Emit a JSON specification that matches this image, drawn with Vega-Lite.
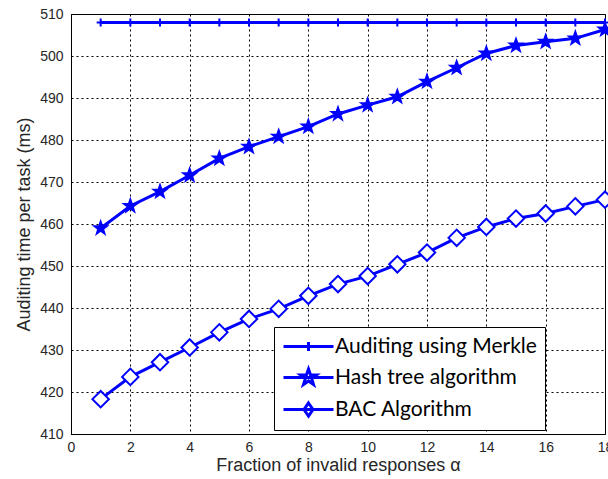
{
  "$schema": "https://vega.github.io/schema/vega-lite/v6.json",
  "width": 534,
  "height": 420,
  "autosize": {"type": "none"},
  "padding": {"left": 71, "top": 14, "right": 3, "bottom": 45},
  "background": "white",
  "config": {"view": {"stroke": "black", "strokeWidth": 1}, "font": "Liberation Sans"},
  "data": {"values": [
    {"series": "Auditing using Merkle", "x": 1, "y": 508}, {"series": "Auditing using Merkle", "x": 2, "y": 508},
    {"series": "Auditing using Merkle", "x": 3, "y": 508}, {"series": "Auditing using Merkle", "x": 4, "y": 508},
    {"series": "Auditing using Merkle", "x": 5, "y": 508}, {"series": "Auditing using Merkle", "x": 6, "y": 508},
    {"series": "Auditing using Merkle", "x": 7, "y": 508}, {"series": "Auditing using Merkle", "x": 8, "y": 508},
    {"series": "Auditing using Merkle", "x": 9, "y": 508}, {"series": "Auditing using Merkle", "x": 10, "y": 508},
    {"series": "Auditing using Merkle", "x": 11, "y": 508}, {"series": "Auditing using Merkle", "x": 12, "y": 508},
    {"series": "Auditing using Merkle", "x": 13, "y": 508}, {"series": "Auditing using Merkle", "x": 14, "y": 508},
    {"series": "Auditing using Merkle", "x": 15, "y": 508}, {"series": "Auditing using Merkle", "x": 16, "y": 508},
    {"series": "Auditing using Merkle", "x": 17, "y": 508}, {"series": "Auditing using Merkle", "x": 18, "y": 508},
    {"series": "Hash tree algorithm", "x": 1, "y": 459.0}, {"series": "Hash tree algorithm", "x": 2, "y": 464.3},
    {"series": "Hash tree algorithm", "x": 3, "y": 467.7}, {"series": "Hash tree algorithm", "x": 4, "y": 471.6},
    {"series": "Hash tree algorithm", "x": 5, "y": 475.6}, {"series": "Hash tree algorithm", "x": 6, "y": 478.4},
    {"series": "Hash tree algorithm", "x": 7, "y": 480.8}, {"series": "Hash tree algorithm", "x": 8, "y": 483.2},
    {"series": "Hash tree algorithm", "x": 9, "y": 486.2}, {"series": "Hash tree algorithm", "x": 10, "y": 488.3},
    {"series": "Hash tree algorithm", "x": 11, "y": 490.3}, {"series": "Hash tree algorithm", "x": 12, "y": 493.9},
    {"series": "Hash tree algorithm", "x": 13, "y": 497.2}, {"series": "Hash tree algorithm", "x": 14, "y": 500.6},
    {"series": "Hash tree algorithm", "x": 15, "y": 502.5}, {"series": "Hash tree algorithm", "x": 16, "y": 503.4},
    {"series": "Hash tree algorithm", "x": 17, "y": 504.2}, {"series": "Hash tree algorithm", "x": 18, "y": 506.3},
    {"series": "BAC Algorithm", "x": 1, "y": 418.3}, {"series": "BAC Algorithm", "x": 2, "y": 423.6},
    {"series": "BAC Algorithm", "x": 3, "y": 427.1}, {"series": "BAC Algorithm", "x": 4, "y": 430.6},
    {"series": "BAC Algorithm", "x": 5, "y": 434.2}, {"series": "BAC Algorithm", "x": 6, "y": 437.4},
    {"series": "BAC Algorithm", "x": 7, "y": 439.8}, {"series": "BAC Algorithm", "x": 8, "y": 442.9},
    {"series": "BAC Algorithm", "x": 9, "y": 445.7}, {"series": "BAC Algorithm", "x": 10, "y": 447.6},
    {"series": "BAC Algorithm", "x": 11, "y": 450.4}, {"series": "BAC Algorithm", "x": 12, "y": 453.2},
    {"series": "BAC Algorithm", "x": 13, "y": 456.7}, {"series": "BAC Algorithm", "x": 14, "y": 459.3},
    {"series": "BAC Algorithm", "x": 15, "y": 461.3}, {"series": "BAC Algorithm", "x": 16, "y": 462.5},
    {"series": "BAC Algorithm", "x": 17, "y": 464.2}, {"series": "BAC Algorithm", "x": 18, "y": 465.8}
  ]},
  "encoding": {
    "x": {
      "field": "x", "type": "quantitative",
      "scale": {"domain": [0, 18], "nice": false, "zero": false},
      "axis": {
        "values": [0, 2, 4, 6, 8, 10, 12, 14, 16, 18],
        "title": "Fraction of invalid responses α",
        "titleFont": "Liberation Sans", "titleFontSize": 18, "titleFontWeight": "normal", "titleColor": "#262626", "titlePadding": 2,
        "labelFont": "Liberation Sans", "labelFontSize": 14, "labelColor": "#262626", "labelPadding": 6, "labelFlush": false,
        "grid": true, "gridColor": "black", "gridDash": [2, 3], "gridOpacity": 1, "gridWidth": 1,
        "domainColor": "black", "ticks": false
      }
    },
    "y": {
      "field": "y", "type": "quantitative",
      "scale": {"domain": [410, 510], "nice": false, "zero": false},
      "axis": {
        "values": [410, 420, 430, 440, 450, 460, 470, 480, 490, 500, 510],
        "title": "Auditing time per task (ms)",
        "titleFont": "Liberation Sans", "titleFontSize": 18, "titleFontWeight": "normal", "titleColor": "#262626", "titlePadding": 6,
        "labelFont": "Liberation Sans", "labelFontSize": 14, "labelColor": "#262626", "labelPadding": 8, "labelFlush": false,
        "grid": true, "gridColor": "black", "gridDash": [2, 3], "gridOpacity": 1, "gridWidth": 1,
        "domainColor": "black", "ticks": false
      }
    }
  },
  "layer": [
    {
      "mark": {"type": "line", "color": "#0000ff", "strokeWidth": 3},
      "encoding": {"detail": {"field": "series", "type": "nominal"}}
    },
    {
      "mark": {"type": "point", "filled": true, "stroke": "#0000ff", "strokeWidth": 2, "opacity": 1},
      "encoding": {
        "shape": {"field": "series", "type": "nominal",
          "scale": {"domain": ["Auditing using Merkle", "Hash tree algorithm", "BAC Algorithm"], "range": ["M-1,0H1M0,-1V1", "M0,-1L0.235,-0.324L0.951,-0.309L0.38,0.124L0.588,0.809L0,0.4L-0.588,0.809L-0.38,0.124L-0.951,-0.309L-0.235,-0.324Z", "diamond"]},
          "legend": null},
        "size": {"field": "series", "type": "nominal",
          "scale": {"domain": ["Auditing using Merkle", "Hash tree algorithm", "BAC Algorithm"], "range": [64, 270, 110]},
          "legend": null},
        "fill": {"field": "series", "type": "nominal",
          "scale": {"domain": ["Auditing using Merkle", "Hash tree algorithm", "BAC Algorithm"], "range": ["transparent", "#0000ff", "white"]},
          "legend": null}
      }
    },
    {
      "mark": {"type": "point", "opacity": 0},
      "encoding": {
        "shape": {"field": "series", "type": "nominal",
          "scale": {"domain": ["Auditing using Merkle", "Hash tree algorithm", "BAC Algorithm"],
            "range": [
              "M-1,0H4M1.5,-0.45V0.45",
              "M-1,0H4M1.5,-0.85L1.7,-0.28L2.31,-0.26L1.82,0.11L2,0.69L1.5,0.34L1,0.69L1.18,0.11L0.69,-0.26L1.3,-0.28Z",
              "M-1,0H4M1.5,-0.65L1.95,0L1.5,0.65L1.05,0Z"
            ]},
          "legend": {
            "title": null, "orient": "none", "legendX": 203, "legendY": 313,
            "symbolSize": 400, "symbolStrokeWidth": 3, "symbolStrokeColor": "#0000ff", "symbolFillColor": "white", "symbolOpacity": 1,
            "labelFont": "Lato", "labelFontSize": 21, "labelColor": "black", "labelOffset": 30, "labelLimit": 400,
            "labelExpr": "datum.label + '\u00a0\u00a0\u00a0\u00a0\u00a0\u00a0\u00a0'",
            "strokeColor": "black", "fillColor": "white", "padding": 8, "rowPadding": 6
          }
        }
      }
    }
  ],
  "resolve": {"scale": {"shape": "independent"}}
}
